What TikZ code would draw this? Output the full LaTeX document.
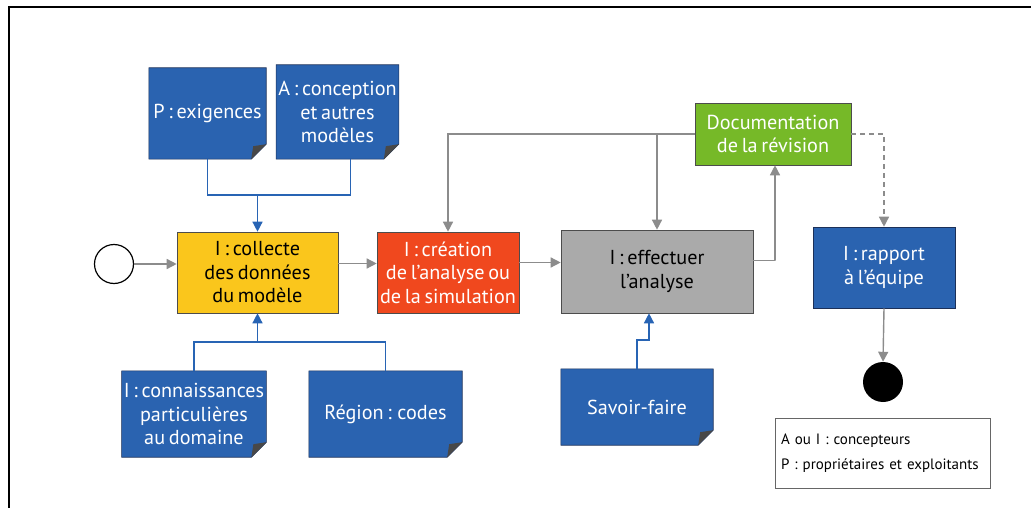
\documentclass[tikz,border=0pt]{standalone}
\usepackage{fontspec}
\setmainfont[WordSpace=0.7]{PT Sans}
\usetikzlibrary{arrows.meta,backgrounds,calc}

\definecolor{noteblue}{RGB}{42,99,176}
\definecolor{noteedge}{RGB}{28,48,88}
\definecolor{foldgrey}{RGB}{72,72,72}
\definecolor{stepyellow}{RGB}{250,198,28}
\definecolor{stepred}{RGB}{240,72,30}
\definecolor{stepgrey}{RGB}{170,170,170}
\definecolor{stepgreen}{RGB}{118,185,40}
\definecolor{flowgrey}{RGB}{140,140,140}
\definecolor{linkblue}{RGB}{40,100,180}

\tikzset{
  boxtext/.style={font=\fontsize{20.2}{23.5}\selectfont, align=center, inner sep=2pt},
  stepbox/.style={boxtext, draw=black!70, line width=0.6pt, anchor=center},
  notebox/.style={boxtext, text=white, anchor=center},
  flow/.style={draw=flowgrey, line width=1.4pt,
    -{Triangle[width=10pt,length=10pt]}},
  link/.style={draw=linkblue, line width=1.4pt},
  linkarrow/.style={link, -{Triangle[width=10pt,length=10pt]}},
}

% blue note with a folded bottom-right corner, drawn behind node #1
\newcommand{\foldnote}[1]{%
  \begin{scope}[on background layer]
    \fill[noteblue, draw=noteedge, line width=0.6pt]
      (#1.north west) -- (#1.north east) -- ([yshift=15pt]#1.south east)
      -- ([xshift=-15pt]#1.south east) -- (#1.south west) -- cycle;
    \fill[foldgrey]
      ([yshift=15pt]#1.south east) -- ([xshift=-15pt]#1.south east)
      -- ([xshift=-13pt,yshift=13pt]#1.south east) -- cycle;
  \end{scope}}

\begin{document}
\begin{tikzpicture}[x=1pt,y=-1pt]
  \useasboundingbox (0,0) rectangle (1031,508);

  % page frame
  \draw[black, line width=2pt] (9,508) -- (9,7) -- (1031,7);

  % inputs above
  \node[notebox, minimum width=117pt, minimum height=91pt] (exig) at (207.5,113.5) {P : exigences};
  \node[notebox, minimum width=121pt, minimum height=94pt] (conc) at (337.5,112) {A : conception\\et autres\\modèles};
  \foldnote{exig}
  \foldnote{conc}

  % main steps
  \node[draw=black, line width=1.2pt, circle, minimum size=39pt, inner sep=0pt] (start) at (114,264) {};
  \node[stepbox, fill=stepyellow, text=black, minimum width=161pt, minimum height=81pt] (collecte) at (257.5,272.5) {I : collecte\\des données\\du modèle};
  \node[stepbox, fill=stepred, text=white, minimum width=142pt, minimum height=81pt] (creation) at (448,272.5) {I : création\\de l’analyse ou\\de la simulation};
  \node[stepbox, fill=stepgrey, text=black, minimum width=192pt, minimum height=83pt] (effect) at (657,271.5) {I : effectuer\\l’analyse};
  \node[stepbox, fill=stepgreen, text=white, minimum width=156pt, minimum height=62pt] (doc) at (773,134) {Documentation\\de la révision};
  \node[stepbox, fill=noteblue, draw=noteedge, text=white, minimum width=142pt, minimum height=81pt] (rapport) at (884,267.5) {I : rapport\\à l’équipe};
  \node[circle, fill=black, minimum size=40pt, inner sep=0pt] (fin) at (883,382) {};

  % inputs below
  \node[notebox, minimum width=142pt, minimum height=86pt] (connais) at (194,414) {I : connaissances\\particulières\\au domaine};
  \node[notebox, minimum width=153pt, minimum height=86pt] (region) at (385.5,414) {Région : codes};
  \node[notebox, minimum width=152pt, minimum height=76pt] (savoir) at (637,407) {Savoir-faire};
  \foldnote{connais}
  \foldnote{region}
  \foldnote{savoir}

  % legend
  \node[draw=black!60, line width=0.6pt, minimum width=215pt, minimum height=70pt,
        align=left, text width=203pt, inner sep=6pt,
        font=\fontsize{15}{25}\selectfont] (legende) at (882.5,453)
        {A ou I : concepteurs\\P : propriétaires et exploitants};

  % blue input connectors
  \coordinate (hautjoint) at (257.5,195);
  \coordinate (basjoint) at (257.5,342);
  \draw[link] (exig.south) |- (hautjoint) -| ([xshift=13pt]conc.south);
  \draw[linkarrow] (hautjoint) -- (collecte.north);
  \draw[link] (connais.north) |- (basjoint) -| (region.north);
  \draw[linkarrow] (basjoint) -- (collecte.south);
  \draw[linkarrow] (savoir.north) -- ++(0,-29) -| ([xshift=-8pt]effect.south);

  % main flow
  \draw[flow] (start.east) -- (collecte.west |- start.east);
  \draw[flow] ([yshift=9pt]collecte.east) -- ([yshift=9pt]creation.west);
  \draw[flow] ([yshift=10pt]creation.east) -- ([yshift=9pt]effect.west);
  \draw[flow] ([yshift=11pt]effect.east) -- ++(22,0) -| ([xshift=2pt]doc.south);
  \draw[flow] (doc.west) -| (creation.north);
  \draw[flow] (effect.north |- doc.west) -- (effect.north);
  \draw[flow, dashed, dash pattern=on 5pt off 4pt] (doc.east) -| (rapport.north);
  \draw[flow] (rapport.south) -- (fin.north);
\end{tikzpicture}
\end{document}
